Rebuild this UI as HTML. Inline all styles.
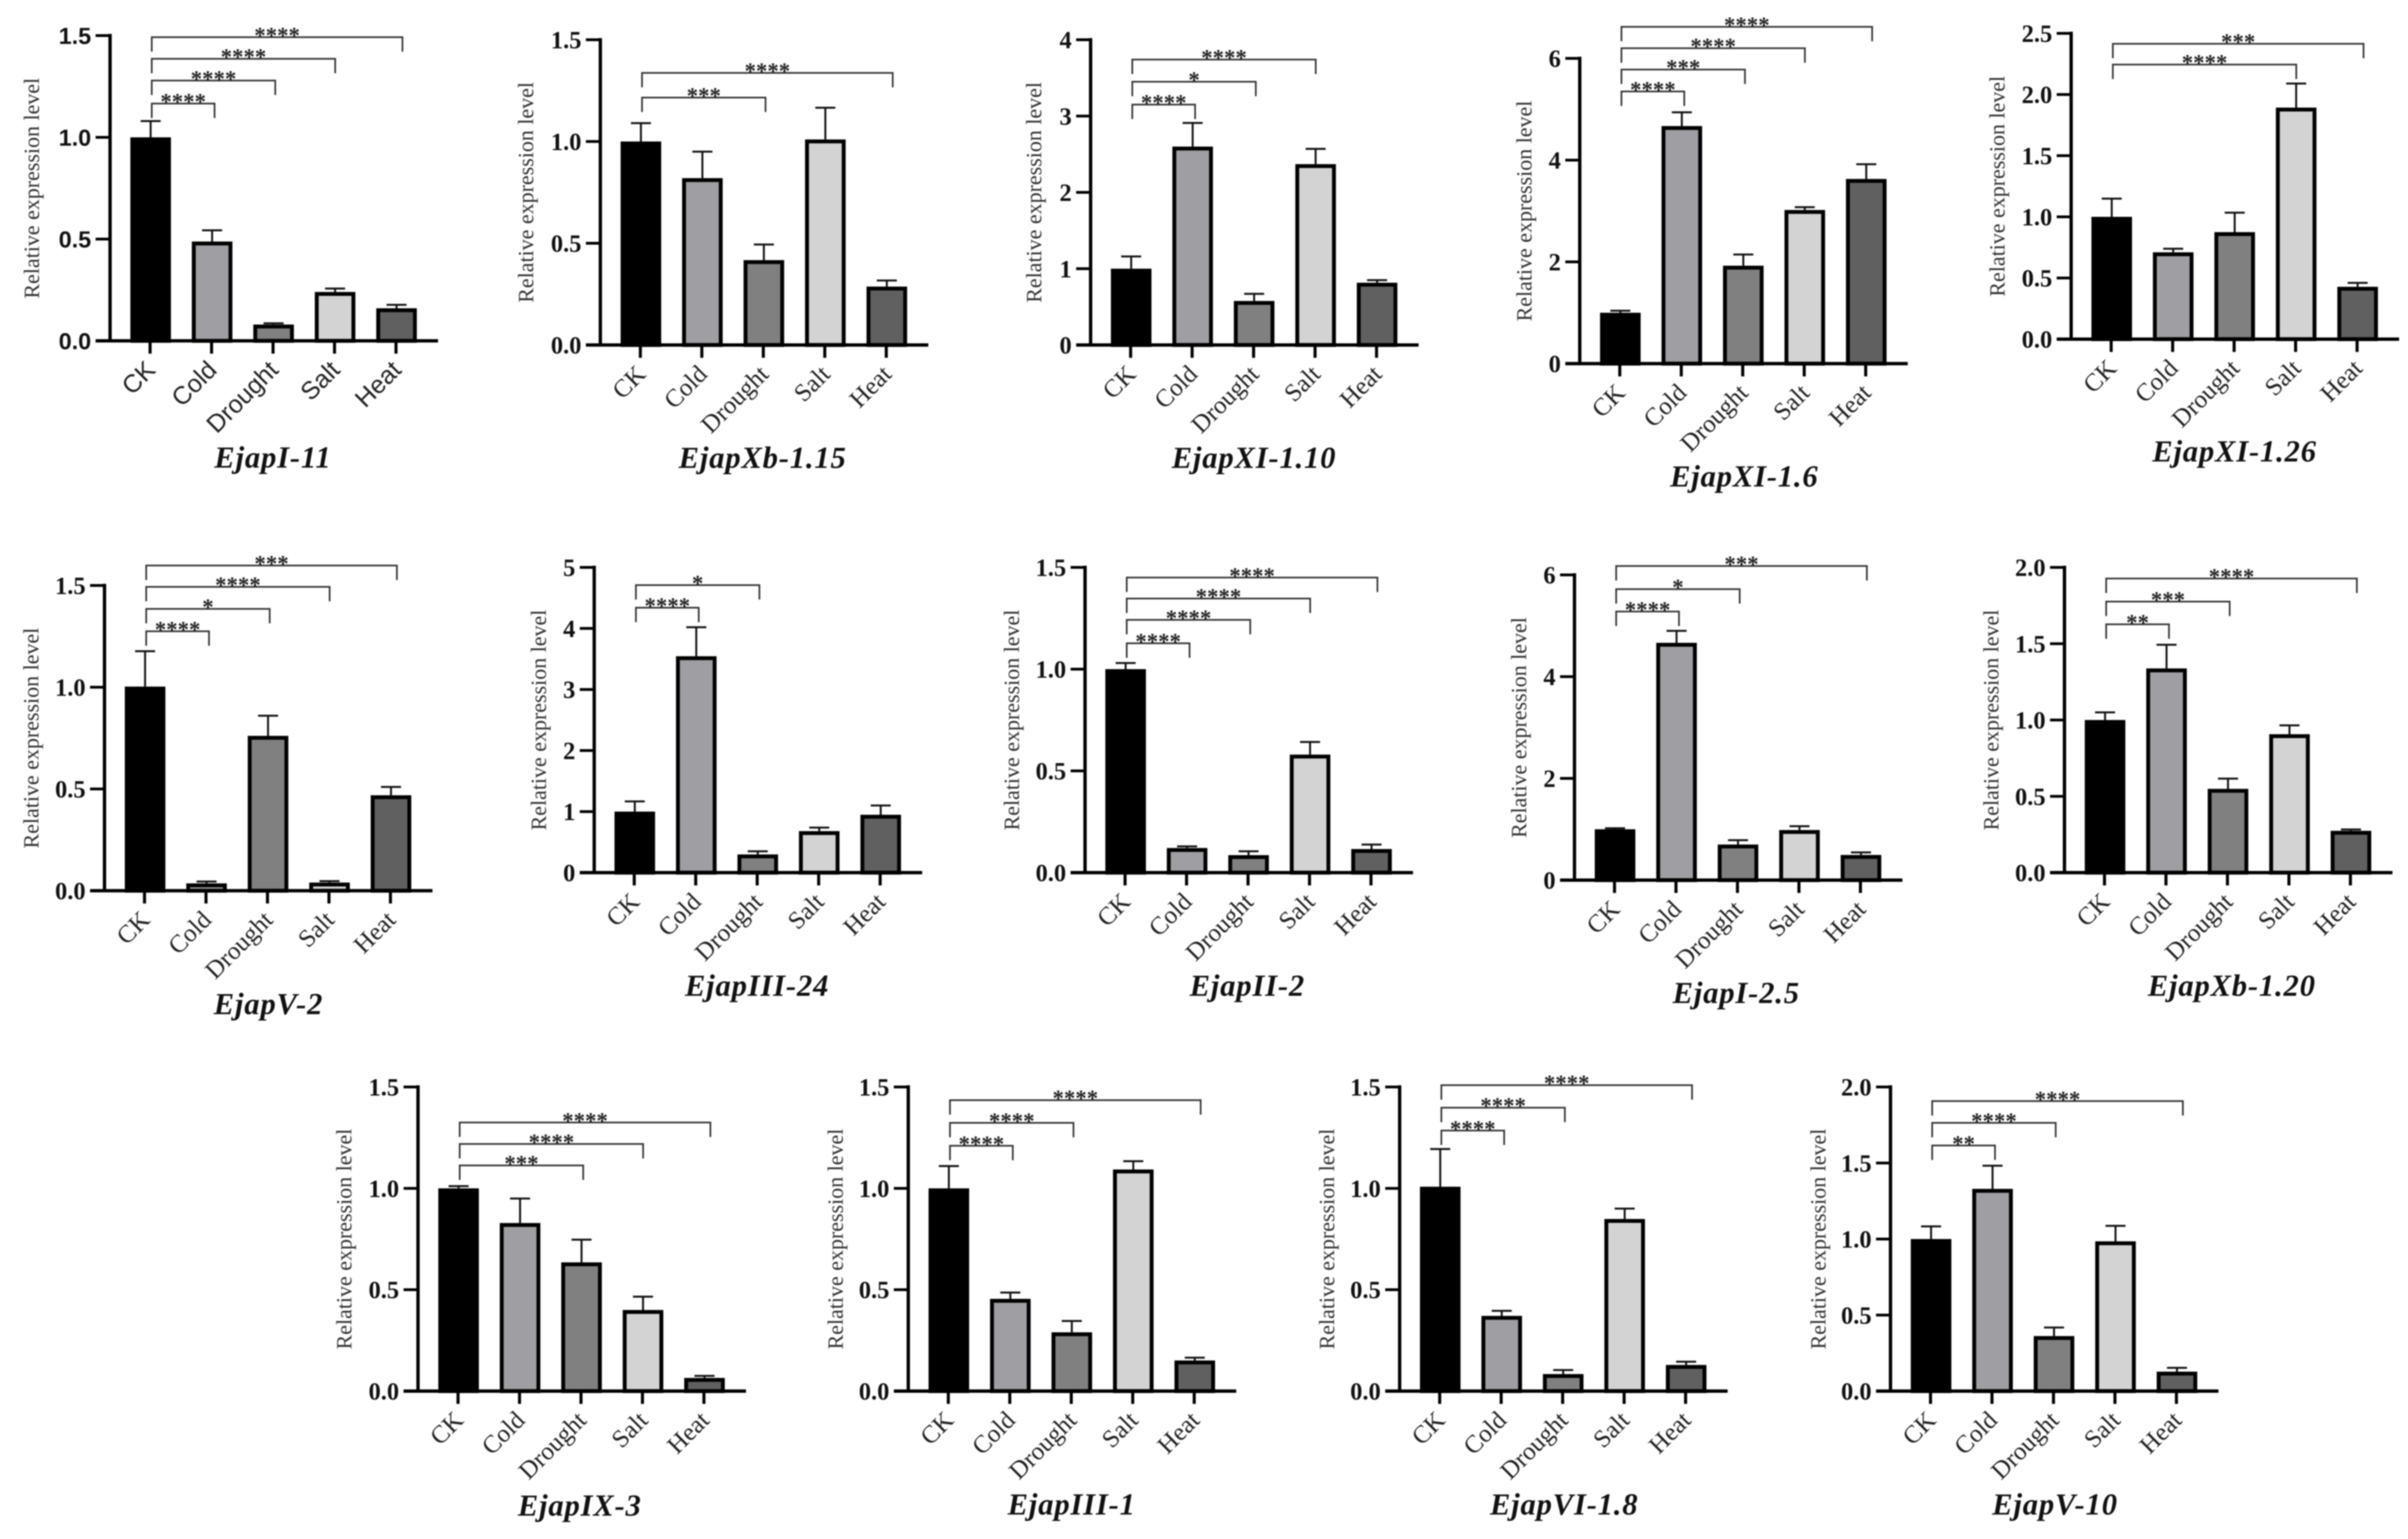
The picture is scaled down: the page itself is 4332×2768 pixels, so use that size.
<!DOCTYPE html>
<html lang="en">
<head>
<meta charset="utf-8">
<title>Relative expression level of Ejap genes under stress</title>
<style>
html,body{margin:0;padding:0;background:#fff;width:4332px;height:2768px;overflow:hidden}
svg{display:block;position:absolute;left:0;top:0;filter:blur(1px)}
</style>
</head>
<body>
<svg id="fig" xmlns="http://www.w3.org/2000/svg" width="4332" height="2768" viewBox="0 0 4332 2768"></svg>
<script>
// ---- data ----
const categories = ['CK', 'Cold', 'Drought', 'Salt', 'Heat'];
const yAxisTitle = 'Relative expression level';
const geneNames = ['EjapI-11', 'EjapXb-1.15', 'EjapXI-1.10', 'EjapXI-1.6', 'EjapXI-1.26', 'EjapV-2', 'EjapIII-24', 'EjapII-2', 'EjapI-2.5', 'EjapXb-1.20', 'EjapIX-3', 'EjapIII-1', 'EjapVI-1.8', 'EjapV-10'];
const tickLabels = [
  ['0.0', '0.5', '1.0', '1.5'],
  ['0.0', '0.5', '1.0', '1.5'],
  ['0', '1', '2', '3', '4'],
  ['0', '2', '4', '6'],
  ['0.0', '0.5', '1.0', '1.5', '2.0', '2.5'],
  ['0.0', '0.5', '1.0', '1.5'],
  ['0', '1', '2', '3', '4', '5'],
  ['0.0', '0.5', '1.0', '1.5'],
  ['0', '2', '4', '6'],
  ['0.0', '0.5', '1.0', '1.5', '2.0'],
  ['0.0', '0.5', '1.0', '1.5'],
  ['0.0', '0.5', '1.0', '1.5'],
  ['0.0', '0.5', '1.0', '1.5'],
  ['0.0', '0.5', '1.0', '1.5', '2.0']
];
const barValues = [
  [1.0, 0.488, 0.08, 0.24, 0.16],
  [1.0, 0.82, 0.417, 1.01, 0.287],
  [1.0, 2.6, 0.577, 2.37, 0.816],
  [1.0, 4.67, 1.925, 3.02, 3.63],
  [1.0, 0.71, 0.875, 1.893, 0.428],
  [1.003, 0.036, 0.761, 0.04, 0.469],
  [1.0, 3.545, 0.298, 0.68, 0.948],
  [1.0, 0.121, 0.086, 0.58, 0.116],
  [1.0, 4.665, 0.7, 0.985, 0.495],
  [1.0, 1.338, 0.549, 0.907, 0.274],
  [1.0, 0.829, 0.635, 0.4, 0.065],
  [1.0, 0.455, 0.29, 1.093, 0.151],
  [1.008, 0.371, 0.084, 0.849, 0.129],
  [1.0, 1.33, 0.362, 0.985, 0.128]
];
const errorTops = [
  [1.08, 0.543, 0.086, 0.257, 0.177],
  [1.09, 0.95, 0.494, 1.166, 0.317],
  [1.16, 2.91, 0.67, 2.57, 0.85],
  [1.04, 4.94, 2.145, 3.075, 3.92],
  [1.149, 0.739, 1.034, 2.09, 0.46],
  [1.177, 0.045, 0.86, 0.047, 0.51],
  [1.167, 4.02, 0.35, 0.738, 1.1],
  [1.03, 0.129, 0.105, 0.642, 0.138],
  [1.02, 4.9, 0.785, 1.06, 0.545],
  [1.05, 1.493, 0.616, 0.965, 0.283],
  [1.011, 0.95, 0.747, 0.466, 0.075],
  [1.11, 0.486, 0.346, 1.134, 0.165],
  [1.194, 0.396, 0.104, 0.9, 0.145],
  [1.083, 1.482, 0.418, 1.087, 0.153]
];
// significance brackets: compared category index, bracket height in axis units, stars
const bracketTargets = [
  [1, 2, 3, 4], [2, 4], [1, 2, 3], [1, 2, 3, 4], [3, 4],
  [1, 2, 3, 4], [1, 2], [1, 2, 3, 4], [1, 2, 4], [1, 2, 4],
  [2, 3, 4], [1, 2, 4], [1, 2, 4], [1, 2, 4]
];
const bracketLevels = [
  [1.166, 1.279, 1.386, 1.492], [1.216, 1.337], [3.15, 3.45, 3.74], [5.35, 5.78, 6.2, 6.62], [2.245, 2.415],
  [1.275, 1.385, 1.493, 1.598], [4.34, 4.71], [1.127, 1.242, 1.347, 1.45], [5.28, 5.72, 6.175], [1.627, 1.776, 1.927],
  [1.113, 1.219, 1.325], [1.21, 1.323, 1.435], [1.285, 1.398, 1.509], [1.615, 1.764, 1.907]
];
const bracketStars = [
  ['****', '****', '****', '****'], ['***', '****'], ['****', '*', '****'], ['****', '***', '****', '****'], ['****', '***'],
  ['****', '*', '****', '***'], ['****', '*'], ['****', '****', '****', '****'], ['****', '*', '***'], ['**', '***', '****'],
  ['***', '****', '****'], ['****', '****', '****'], ['****', '****', '****'], ['**', '****', '****']
];

// ---- layout (not data) ----
const panelLeft = [198, 1080, 1962, 2842, 3726, 188, 1069, 1952, 2832.5, 3714, 752, 1634, 2518, 3401];
const panelBase = [613, 620.5, 620.5, 654, 610, 1602, 1569.5, 1569.5, 1583, 1569.5, 2502, 2502, 2502, 2502];
const panelHeight = [549, 549, 549, 549, 550, 549, 549, 549, 549, 549, 547, 547, 547, 547];
const titleOffsetX = [293, 292, 294, 296, 294, 295, 293, 292, 291, 301, 291, 294, 296, 296];
const titleOffsetY = [228, 221, 221, 221, 220, 222, 221.5, 221.5, 221, 221.5, 224, 222, 222, 222];
const axisTitleOffset = [141, 134, 102, 100, 133, 132, 100, 132, 100, 132, 133, 131, 131, 130];
const barFills = ['#000000', '#9f9fa3', '#808080', '#d3d3d3', '#606060'];
const bracketNudge = [3, 5.4, 4, 1.2, 11.6];
const SERIF = '"Liberation Serif", serif';
const SANS = '"Liberation Sans", sans-serif';
const NS = 'http://www.w3.org/2000/svg';
const fig = document.getElementById('fig');

function mk(parent, tag, attrs, text) {
  const el = document.createElementNS(NS, tag);
  for (const k in attrs) el.setAttribute(k, attrs[k]);
  if (text !== undefined) el.textContent = text;
  parent.appendChild(el);
  return el;
}

function drawPanel(p) {
  const x0 = panelLeft[p];
  const y0 = panelBase[p];
  const h = panelHeight[p];
  const labels = tickLabels[p];
  const axisMax = parseFloat(labels[labels.length - 1]);
  const yOf = v => y0 - (v / axisMax) * h;
  const xOf = i => x0 + 72 + 110.6 * i;
  const tickFont = p === 0 ? SANS : SERIF;

  const g = mk(fig, 'g', {});
  
  

  // bars and error bars
  categories.forEach((cat, i) => {
    const cx = xOf(i) + 1;
    const top = yOf(barValues[p][i]);
    const errY = yOf(errorTops[p][i]);
    const stem = mk(g, 'line', { x1: cx, x2: cx, y1: top, y2: errY, stroke: '#111', 'stroke-width': 3.5 });
    
    
    const cap = mk(g, 'line', { x1: cx - 18, x2: cx + 18, y1: errY, y2: errY, stroke: '#111', 'stroke-width': 3.5 });
    
    
    const sw = 7;
    const bar = mk(g, 'rect', {
      x: cx - 36.5 + sw / 2, y: top + sw / 2, width: 73 - sw,
      height: Math.max(0.5, y0 - top - sw / 2),
      fill: barFills[i], stroke: '#000', 'stroke-width': sw
    });
    
    
  });

  // axes
  const yAxis = mk(g, 'line', { x1: x0, x2: x0, y1: yOf(axisMax) - 3, y2: y0 + 3, stroke: '#000', 'stroke-width': 6 });
  
  
  const xAxis = mk(g, 'line', { x1: x0 - 26, x2: x0 + 590, y1: y0, y2: y0, stroke: '#000', 'stroke-width': 6 });
  
  

  // y ticks
  labels.forEach(lab => {
    const v = parseFloat(lab);
    const ty = yOf(v);
    const tick = mk(g, 'line', { x1: x0 - 26, x2: x0, y1: ty, y2: ty, stroke: '#000', 'stroke-width': 5 });
    
    
    const t = mk(g, 'text', {
      x: x0 - 34, y: ty + 15, 'text-anchor': 'end', 'font-family': tickFont,
      'font-weight': 700, 'font-size': p === 0 ? 42 : 44, fill: '#111'
    }, lab);
    
    
  });

  // x ticks and labels
  categories.forEach((cat, i) => {
    const tx = xOf(i);
    const tick = mk(g, 'line', { x1: tx, x2: tx, y1: y0, y2: y0 + 23, stroke: '#000', 'stroke-width': 5.5 });
    
    
    const lx = tx + 12;
    const ly = y0 + 55;
    const t = mk(g, 'text', {
      x: lx, y: ly, 'text-anchor': 'end', 'font-family': tickFont, 'font-size': 45, fill: '#222',
      transform: 'rotate(-45 ' + lx + ' ' + ly + ')'
    }, cat);
    
    
  });

  // y axis title
  const ax = x0 - axisTitleOffset[p];
  const ay = y0 - h / 2;
  const yt = mk(g, 'text', {
    x: ax, y: ay, 'text-anchor': 'middle', 'font-family': SERIF, 'font-size': 39.5, fill: '#333',
    transform: 'rotate(-90 ' + ax + ' ' + ay + ')', 'dominant-baseline': 'central'
  }, yAxisTitle);
  
  

  // significance brackets
  const leftX = xOf(0) + bracketNudge[0];
  bracketTargets[p].forEach((target, b) => {
    const rightX = xOf(target) + bracketNudge[target];
    const by = yOf(bracketLevels[p][b]);
    const path = mk(g, 'path', {
      d: 'M' + leftX + ' ' + (by + 26) + 'V' + by + 'H' + rightX + 'V' + (by + 26),
      fill: 'none', stroke: '#333', 'stroke-width': 3
    });
    
    
    const s = mk(g, 'text', {
      x: (leftX + rightX) / 2, y: by + 10, 'text-anchor': 'middle', 'font-family': SERIF,
      'font-weight': 700, 'font-size': 41, fill: '#222'
    }, bracketStars[p][b]);
    
    
  });

  // gene title
  const title = mk(g, 'text', {
    x: x0 + titleOffsetX[p], y: y0 + titleOffsetY[p], 'text-anchor': 'middle', 'font-family': SERIF,
    'font-weight': 700, 'font-style': 'italic', 'font-size': 55, 'letter-spacing': 1.5, fill: '#111'
  }, geneNames[p]);
  
  
}

geneNames.forEach((_, p) => drawPanel(p));
</script>
</body>
</html>
